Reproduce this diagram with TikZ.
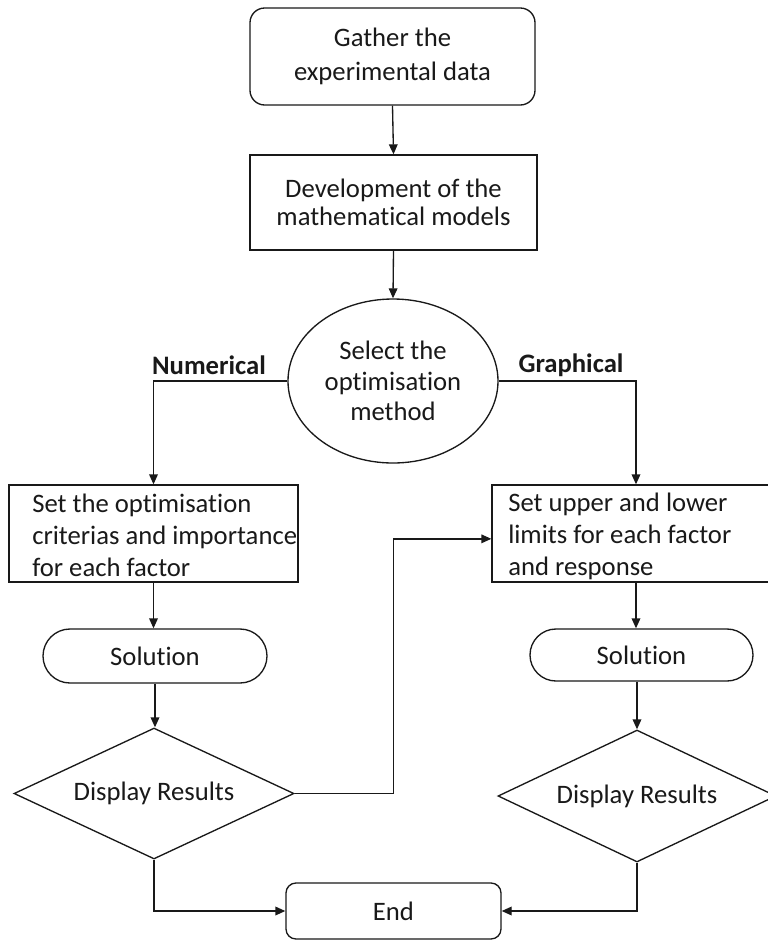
\documentclass[tikz,border=0pt]{standalone}
\usepackage{fontspec}
\setmainfont{Carlito}[Ligatures=NoCommon]
\usetikzlibrary{arrows.meta,shapes.geometric,shapes.misc}
\begin{document}
\begin{tikzpicture}[x=0.75pt,y=-0.75pt,
  every node/.style={inner sep=0pt, font=\fontsize{20}{24}\selectfont, text=black!90},
  frame/.style={draw=black!90, line width=1pt, align=center},
  boxnode/.style={frame, rectangle},
  roundbox/.style={frame, rectangle, rounded corners=#1},
  pill/.style={frame, rounded rectangle},
  decision/.style={frame, diamond, aspect=2.1},
  oval/.style={frame, ellipse},
  branchlabel/.style={font=\fontsize{20}{24}\selectfont\bfseries},
  arr/.style={draw=black!90, line width=1pt, -{Triangle[length=7.5pt,width=6.5pt]}},
  link/.style={draw=black!90, line width=1pt}
]
\useasboundingbox (0,0) rectangle (768,940);

% main column
\node[roundbox=11pt, minimum width=213.75pt, minimum height=72.75pt,
      font=\fontsize{20}{26}\selectfont] (gather) at (392.5,56.5)
      {Gather the\\experimental data};
\node[boxnode, minimum width=215.25pt, minimum height=71.25pt,
      font=\fontsize{20}{21}\selectfont] (dev) at (393.5,202.5)
      {Development of the\\mathematical models};
\node[oval, minimum width=157.5pt, minimum height=123pt,
      font=\fontsize{20}{23}\selectfont] (sel) at (393,381)
      {Select the\\optimisation\\method};

% branch labels
\node[branchlabel] (numlabel) at (209,365) {Numerical};
\node[branchlabel] (gralabel) at (571,365) {Graphical};

% numerical branch
\node[boxnode, minimum width=216.75pt, minimum height=72.75pt] (numbox) at (153.5,533.5) {};
\node[anchor=west, align=left, font=\fontsize{20}{24}\selectfont] (numtxt) at (32,535)
      {Set the optimisation\\criterias and importance\\for each factor};
\node[pill, minimum width=168pt, minimum height=40.5pt] (sol1) at (155,656) {Solution};
\node[decision, minimum width=210pt, minimum height=98.25pt] (disp1) at (154,793.5) {Display Results};

% graphical branch
\node[boxnode, minimum width=216pt, minimum height=72.75pt] (grabox) at (636,533.5) {};
\node[anchor=west, align=left, font=\fontsize{20}{24}\selectfont] (gratxt) at (508,536.5)
      {Set upper and lower\\limits for each factor\\and response};
\node[pill, minimum width=167.25pt, minimum height=39pt] (sol2) at (641.5,655) {Solution};
\node[decision, minimum width=208.5pt, minimum height=99pt] (disp2) at (637,796) {Display Results};

% terminal
\node[roundbox=7.5pt, minimum width=161.25pt, minimum height=42pt] (end) at (393.5,911) {End};

% connectors
\draw[arr] (gather.south) -- (dev.north);
\draw[arr] (dev.south) -- (sel.north);
\draw[arr] (sel.west) -| (numbox.north);
\draw[arr] (sel.east) -| (grabox.north);
\draw[arr] (numbox.south) -- (numbox.south |- sol1.north);
\draw[arr] (sol1.south) -- (sol1.south |- disp1.north);
\draw[arr] (grabox.south) -- (grabox.south |- sol2.north);
\draw[arr] (sol2.south -| disp2.north) -- (disp2.north);
\draw[arr] (disp1.east) -- (disp1.east -| end.north) |- ([yshift=-4pt]grabox.west);
\draw[arr] (disp1.south) |- (end.west);
\draw[arr] (disp2.south) |- (end.east);
\end{tikzpicture}
\end{document}
